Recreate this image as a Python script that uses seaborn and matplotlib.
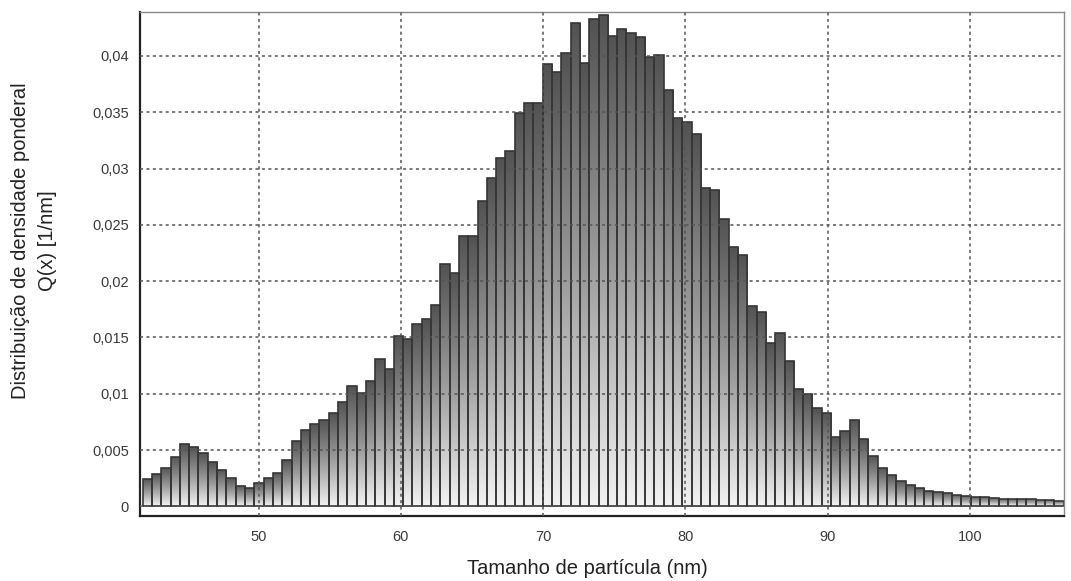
import numpy as np
import pandas as pd
import matplotlib.pyplot as plt
import seaborn as sns
from matplotlib.colors import LinearSegmentedColormap

# Distribuição Q(x) (99 classes de tamanho)
q_x = [0.00245, 0.0029, 0.0034, 0.0044, 0.0055, 0.0053, 0.0047, 0.0039, 0.0032, 0.0025,
       0.0018, 0.0016, 0.0021, 0.0025, 0.0030, 0.0041, 0.0058, 0.0068, 0.0073, 0.0077,
       0.0083, 0.0093, 0.0107, 0.0101, 0.0111, 0.0131, 0.0122, 0.0151, 0.0149, 0.0162,
       0.0166, 0.0179, 0.0215, 0.0207, 0.0240, 0.0240, 0.0271, 0.0292, 0.0309, 0.0316,
       0.0349, 0.0358, 0.0358, 0.0393, 0.0386, 0.0403, 0.0429, 0.0394, 0.0433, 0.0436,
       0.0418, 0.0424, 0.0420, 0.0417, 0.0399, 0.0401, 0.0370, 0.0345, 0.0341, 0.0331,
       0.0283, 0.0281, 0.0255, 0.0230, 0.0223, 0.0178, 0.0173, 0.0145, 0.0154, 0.0129,
       0.0104, 0.0100, 0.0087, 0.0083, 0.0062, 0.0067, 0.0077, 0.0060, 0.0045, 0.0034,
       0.0028, 0.0023, 0.0019, 0.0016, 0.0014, 0.00126, 0.00117, 0.00105, 0.00096, 0.00087,
       0.0008, 0.00075, 0.0007, 0.00066, 0.00066, 0.00063, 0.0006, 0.00057, 0.0005]

# limites das classes (nm)
size_min = 41.85
size_max = 106.6

x_ticks = [50, 60, 70, 80, 90, 100]
y_ticks = [0, 0.005, 0.01, 0.015, 0.02, 0.025, 0.03, 0.035, 0.04]
y_tick_labels = ['0', '0,005', '0,01', '0,015', '0,02', '0,025', '0,03', '0,035', '0,04']

edges = np.linspace(size_min, size_max, len(q_x) + 1)
df = pd.DataFrame({'tamanho': (edges[:-1] + edges[1:]) / 2, 'q': q_x})

sns.set_style('white')
plt.rcParams['font.family'] = ['Liberation Sans', 'DejaVu Sans']

fig = plt.figure(figsize=(10.71, 5.81), dpi=100)
ax = fig.add_axes([0.1307, 0.1119, 0.8627, 0.8675])

sns.barplot(data=df, x='tamanho', y='q', native_scale=True, width=1, errorbar=None,
            color='#888888', edgecolor='#363636', linewidth=1.2, ax=ax)

# gradiente em cada barra (escuro no topo, claro na base)
cmap = LinearSegmentedColormap.from_list('cinza', ['#525252', '#9c9c9c', '#f2f2f2'])
grad = np.linspace(0, 1, 256).reshape(-1, 1)
for p in list(ax.patches):
    x0, w, h = p.get_x(), p.get_width(), p.get_height()
    im = ax.imshow(grad, cmap=cmap, aspect='auto', extent=[x0, x0 + w, 0, h],
                   origin='upper', zorder=1, interpolation='bilinear')
    im.set_clip_path(p)
    p.set_facecolor('none')
    p.set_zorder(2)

ax.set_xlim(41.66, 106.62)
ax.set_ylim(-0.00085, 0.0439)

ax.set_axisbelow(False)
ax.grid(True, color='#555555', linestyle=(0, (2, 2.2)), linewidth=1.1, zorder=3)

ax.set_xticks(x_ticks)
ax.set_xticklabels([str(t) for t in x_ticks])
ax.set_yticks(y_ticks)
ax.set_yticklabels(y_tick_labels)
ax.tick_params(axis='both', labelsize=10.5, colors='#3a3a3a', direction='out',
               length=4, width=1, pad=4)
ax.tick_params(axis='x', length=6)
ax.set_xlabel('')
ax.set_ylabel('')

for s in ['left', 'bottom']:
    ax.spines[s].set_color('#222222')
    ax.spines[s].set_linewidth(1.6)
for s in ['top', 'right']:
    ax.spines[s].set_color('#8a8a8a')
    ax.spines[s].set_linewidth(1.0)

fig.text(587 / 1071, 1 - 568 / 581, 'Tamanho de partícula (nm)', ha='center', va='center',
         fontsize=14.5, color='#222222')
fig.text(34 / 1071, 1 - 241 / 581, 'Distribuição de densidade ponderal\nQ(x) [1/nm]',
         rotation=90, ha='center', va='center', multialignment='center',
         fontsize=14.5, color='#222222', linespacing=1.55)

fig.savefig('out.png', dpi=100)
